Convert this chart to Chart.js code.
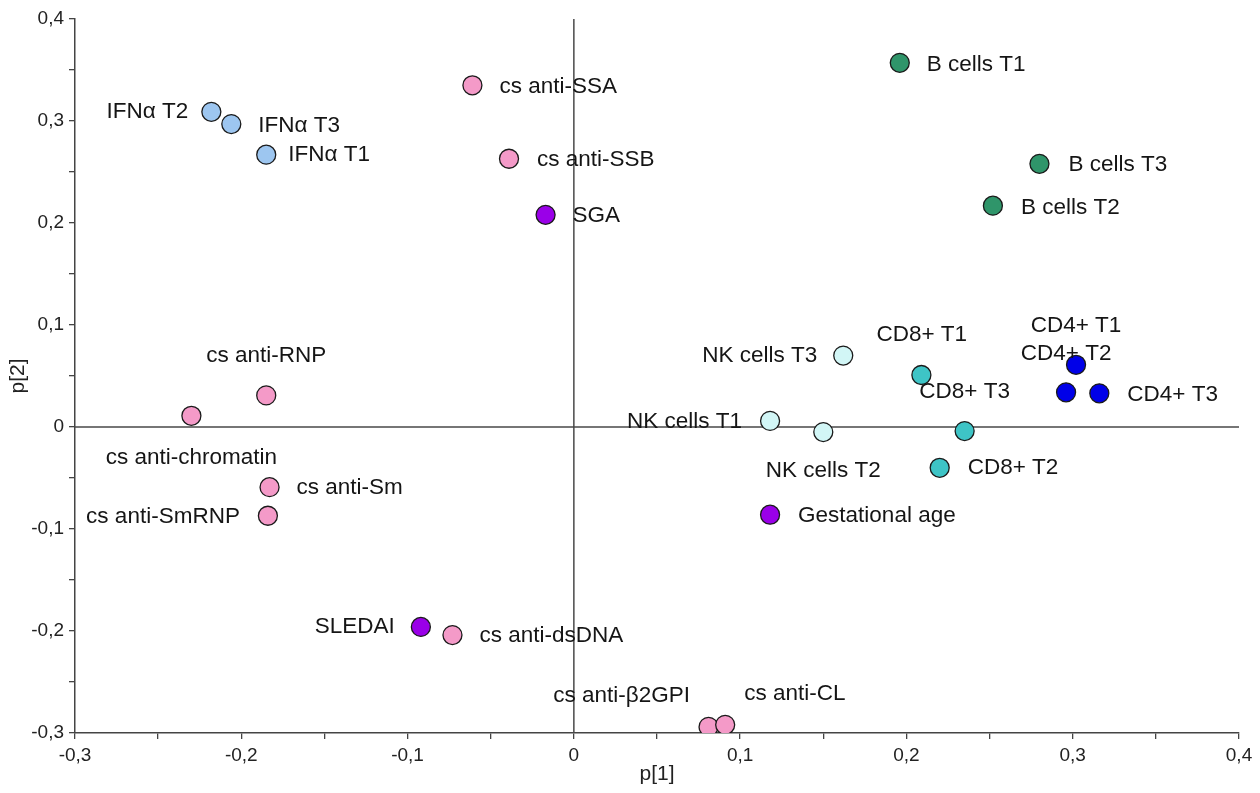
<!DOCTYPE html>
<html lang="en">
<head>
  <meta charset="UTF-8">
  <title>PLS loadings p[1] vs p[2]</title>
  <script src="https://cdn.jsdelivr.net/npm/chart.js"></script>
  <style>
    html, body { margin: 0; padding: 0; background: #fff; }
    #chart-container { width: 1260px; height: 793px; }
  </style>
</head>
<body>
<div id="chart-container">
  <canvas id="grafico"></canvas>
</div>

<script>
  // variables and their loadings
  const names = [
    'IFNα T1', 'IFNα T2', 'IFNα T3',
    'cs anti-SSA', 'cs anti-SSB', 'cs anti-RNP', 'cs anti-chromatin', 'cs anti-Sm', 'cs anti-SmRNP',
    'cs anti-dsDNA', 'cs anti-β2GPI', 'cs anti-CL',
    'SGA', 'Gestational age', 'SLEDAI',
    'B cells T1', 'B cells T2', 'B cells T3',
    'NK cells T1', 'NK cells T2', 'NK cells T3',
    'CD8+ T1', 'CD8+ T2', 'CD8+ T3',
    'CD4+ T1', 'CD4+ T2', 'CD4+ T3'
  ];
  const p1 = [
    -0.185, -0.218, -0.206,
    -0.061, -0.039, -0.185, -0.230, -0.183, -0.184,
    -0.073, 0.081, 0.091,
    -0.017, 0.118, -0.092,
    0.196, 0.252, 0.280,
    0.118, 0.150, 0.162,
    0.209, 0.220, 0.235,
    0.302, 0.296, 0.316
  ];
  const p2 = [
    0.267, 0.309, 0.297,
    0.335, 0.263, 0.031, 0.011, -0.059, -0.087,
    -0.204, -0.294, -0.292,
    0.208, -0.086, -0.196,
    0.357, 0.217, 0.258,
    0.006, -0.005, 0.070,
    0.051, -0.040, -0.004,
    0.061, 0.034, 0.033
  ];
  const groups = [
    'ifn', 'ifn', 'ifn',
    'ab', 'ab', 'ab', 'ab', 'ab', 'ab',
    'ab', 'ab', 'ab',
    'clin', 'clin', 'clin',
    'bcell', 'bcell', 'bcell',
    'nk', 'nk', 'nk',
    'cd8', 'cd8', 'cd8',
    'cd4', 'cd4', 'cd4'
  ];
  const axisTicks = [-0.3, -0.2, -0.1, 0, 0.1, 0.2, 0.3, 0.4];

  // look
  const groupColors = {
    ifn: '#9dc6f0', ab: '#f49ac8', clin: '#9a00e8', bcell: '#2f956a',
    nk: '#d2f6f6', cd8: '#3ec4c6', cd4: '#0000e8'
  };
  // [align, dx, dy] for each label, same order as names
  const labelPlace = [
    ['left', 22, 0], ['right', -23, 0], ['left', 27, 2],
    ['left', 27, 1], ['left', 28, 1], ['center', 0, -40], ['center', 0, 42], ['left', 27, 1], ['right', -28, 1],
    ['left', 27, 1], ['center', -87, -31], ['left', 19, -31],
    ['left', 27, 1], ['left', 28, 1], ['right', -26, 0],
    ['left', 27, 2], ['left', 28, 2], ['left', 29, 1],
    ['right', -28, 1], ['center', 0, 39], ['right', -26, 0],
    ['left', -45, -40], ['left', 28, 0], ['center', 0, -39],
    ['center', 0, -39], ['center', 0, -39], ['left', 28, 1]
  ];

  const FONT = '"Liberation Sans", Arial, sans-serif';

  const orden = ['ifn', 'ab', 'clin', 'bcell', 'nk', 'cd8', 'cd4'];
  const datasets = orden.map(g => {
    const idx = [];
    groups.forEach((gg, i) => { if (gg === g) idx.push(i); });
    return {
      label: g,
      data: idx.map(i => ({ x: p1[i], y: p2[i], name: names[i], k: i })),
      backgroundColor: groupColors[g],
      borderColor: '#1a1a1a',
      borderWidth: 1.3,
      pointRadius: 9.5,
      pointHoverRadius: 9.5
    };
  });

  const fmt = v => {
    const r = Math.round(v * 10) / 10;
    return r === 0 ? '0' : r.toFixed(1).replace('.', ',');
  };

  const ejesCero = {
    id: 'ejesCero',
    beforeDatasetsDraw(chart) {
      const { ctx, chartArea, scales } = chart;
      const x0 = scales.x.getPixelForValue(0);
      const y0 = scales.y.getPixelForValue(0);
      ctx.save();
      ctx.strokeStyle = '#4a4a4a';
      ctx.lineWidth = 1.5;
      ctx.beginPath();
      ctx.moveTo(x0, chartArea.top);
      ctx.lineTo(x0, chartArea.bottom);
      ctx.moveTo(chartArea.left, y0);
      ctx.lineTo(chartArea.right, y0);
      ctx.stroke();
      ctx.restore();
    }
  };

  const etiquetas = {
    id: 'etiquetas',
    afterDatasetsDraw(chart) {
      const ctx = chart.ctx;
      ctx.save();
      ctx.font = '22.5px ' + FONT;
      ctx.fillStyle = '#151515';
      ctx.textBaseline = 'middle';
      chart.data.datasets.forEach((ds, di) => {
        const meta = chart.getDatasetMeta(di);
        meta.data.forEach((pt, j) => {
          const d = ds.data[j];
          const [align, dx, dy] = labelPlace[d.k];
          ctx.textAlign = align;
          ctx.fillText(d.name, pt.x + dx, pt.y + dy);
        });
      });
      ctx.restore();
    }
  };

  function ticksCada005(scale) {
    const t = [];
    for (let k = 0; k <= 14; k++) t.push({ value: Math.round((-0.3 + k * 0.05) * 100) / 100 });
    scale.ticks = t;
  }

  const ctx = document.getElementById('grafico').getContext('2d');
  new Chart(ctx, {
    type: 'scatter',
    data: { datasets },
    options: {
      responsive: true,
      maintainAspectRatio: false,
      animation: false,
      layout: { padding: { top: 19, right: 21, left: 0, bottom: 0 } },
      plugins: { legend: { display: false }, tooltip: { enabled: false } },
      scales: {
        x: {
          type: 'linear',
          min: -0.3, max: 0.4,
          afterFit(scale) { scale.height = 60; },
          afterBuildTicks: ticksCada005,
          ticks: {
            autoSkip: false,
            maxRotation: 0,
            padding: 5,
            color: '#222',
            font: { family: FONT, size: 19 },
            callback: v => axisTicks.some(a => Math.abs(a - v) < 1e-6) ? fmt(v) : ''
          },
          grid: { display: true, drawOnChartArea: false, drawTicks: true, tickLength: 6, color: '#444', lineWidth: 1.3 },
          border: { display: true, color: '#444', width: 1.5 },
          title: {
            display: true, text: 'p[1]', color: '#222', padding: { top: 0, bottom: 6 },
            font: { family: FONT, size: 21 }
          }
        },
        y: {
          type: 'linear',
          min: -0.3, max: 0.4,
          afterFit(scale) { scale.width = 75; },
          afterBuildTicks: ticksCada005,
          ticks: {
            autoSkip: false,
            padding: 5,
            color: '#222',
            font: { family: FONT, size: 19 },
            callback: v => axisTicks.some(a => Math.abs(a - v) < 1e-6) ? fmt(v) : ''
          },
          grid: { display: true, drawOnChartArea: false, drawTicks: true, tickLength: 6, color: '#444', lineWidth: 1.3 },
          border: { display: true, color: '#444', width: 1.5 },
          title: {
            display: true, text: 'p[2]', color: '#222', padding: { top: 6, bottom: 0 },
            font: { family: FONT, size: 21 }
          }
        }
      }
    },
    plugins: [ejesCero, etiquetas]
  });
</script>

</body>
</html>
